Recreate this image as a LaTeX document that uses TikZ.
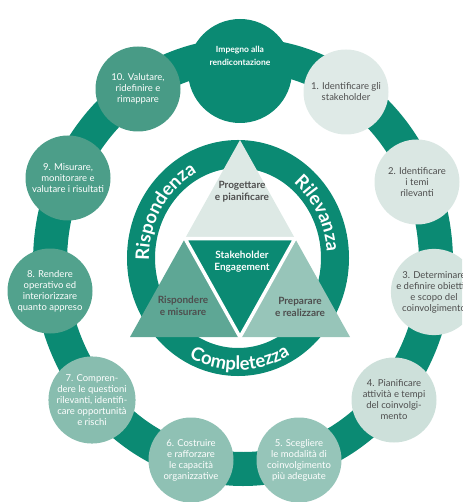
\documentclass[tikz,border=0pt]{standalone}
\usepackage{fontspec}
\setmainfont{Lato}
\usetikzlibrary{calc,decorations.text}

\definecolor{ringteal}{HTML}{0B8A73}
\definecolor{tritop}{HTML}{DDE9E5}
\definecolor{trileft}{HTML}{5EA795}
\definecolor{triright}{HTML}{97C5B9}
\definecolor{stepgray}{HTML}{4E4E4E}
\definecolor{st1}{HTML}{DFEAE7}
\definecolor{st2}{HTML}{DAE7E3}
\definecolor{st3}{HTML}{D4E4DF}
\definecolor{st4}{HTML}{CDE0DA}
\definecolor{st5}{HTML}{96C5B9}
\definecolor{st6}{HTML}{8FC1B4}
\definecolor{st7}{HTML}{88BDAF}
\definecolor{st8}{HTML}{52A28D}
\definecolor{st9}{HTML}{4C9E89}
\definecolor{st10}{HTML}{489B86}

\newcommand{\ringfont}{\bfseries\fontsize{18.5}{18.5}\selectfont}

\begin{document}
\begin{tikzpicture}[x=1pt,y=-1pt]
        \tikzstyle{stepc}=[circle, inner sep=0pt, minimum size=85pt, align=center, font=\fontsize{9.5}{11}\selectfont]
        \tikzstyle{tritext}=[align=center, font=\fontsize{10}{12}\selectfont\bfseries, text=stepgray]
        \tikzstyle{ringtext}=[decorate, decoration={text along path, text align=center, text color=white}]

        \useasboundingbox (0,0) rectangle (462,502);
        \clip (0,0) rectangle (462,502);

        % outer ring with the bulge on top
        \draw[ringteal, line width=34pt] (243,262) ellipse[x radius=193, y radius=207];
        \fill[ringteal] (240,71) circle[radius=52];
        \fill[ringteal] (176,62) -- (177,50) .. controls (185,49.5) and (193,49) .. (196,44)
            -- (284,44) .. controls (287,49) and (295,48.5) .. (303,48) -- (304,62) -- cycle;
        \node[align=center, text=white, font=\fontsize{8.5}{13}\selectfont\bfseries] (impegno) at (240,56) {Impegno alla\\rendicontazione};

        % steps
        \node[stepc, fill=st1, text=stepgray]  (s1)  at (346,92)  {1. Identificare gli\\stakeholder};
        \node[stepc, fill=st2, text=stepgray]  (s2)  at (417,182) {2. Identificare\\i temi\\rilevanti};
        \node[stepc, fill=st3, text=stepgray]  (s3)  at (434,292) {3. Determinare\\e definire obiettivi\\e scopo del\\coinvolgimento};
        \node[stepc, fill=st4, text=stepgray]  (s4)  at (394,400) {4. Pianificare\\attività e tempi\\del coinvolgi-\\mento};
        \node[stepc, fill=st5, text=white]     (s5)  at (299,460) {5. Scegliere\\le modalità di\\coinvolgimento\\più adeguate};
        \node[stepc, fill=st6, text=white]     (s6)  at (191,460) {6. Costruire\\e rafforzare\\le capacità\\organizzative};
        \node[stepc, fill=st7, text=white]     (s7)  at (92,400)  {7. Compren-\\dere le questioni\\rilevanti, identifi-\\care opportunità\\e rischi};
        \node[stepc, fill=st8, text=white]     (s8)  at (50,291)  {8. Rendere\\operativo ed\\interiorizzare\\quanto appreso};
        \node[stepc, fill=st9, text=white]     (s9)  at (68,178)  {9. Misurare,\\monitorare e\\valutare i risultati};
        \node[stepc, fill=st10, text=white]    (s10) at (138,89)  {10. Valutare,\\ridefinire e\\rimappare};

        % inner ring
        \draw[ringteal, line width=28pt] (238,258) ellipse[x radius=97, y radius=104];

        % triangle
        \coordinate (A) at (240,140);
        \coordinate (B) at (130,337);
        \coordinate (C) at (350,337);
        \coordinate (AB) at ($(A)!0.5!(B)$);
        \coordinate (BC) at ($(B)!0.5!(C)$);
        \coordinate (CA) at ($(C)!0.5!(A)$);
        \fill[tritop]   (A) -- (AB) -- (CA) -- cycle;
        \fill[trileft]  (AB) -- (B) -- (BC) -- cycle;
        \fill[triright] (CA) -- (BC) -- (C) -- cycle;
        \fill[ringteal] (AB) -- (BC) -- (CA) -- cycle;
        \draw[white, line width=3.5pt] (AB) -- (BC) -- (CA) -- cycle;

        \node[tritext] (prog) at (242,192) {Progettare\\e pianificare};
        \node[tritext, text=white] (stake) at (242,262) {Stakeholder\\Engagement};
        \node[tritext] (risp) at (183,306) {Rispondere\\e misurare};
        \node[tritext] (prep) at (300,307) {Preparare\\e realizzare};

        % words on the inner ring
        \path[ringtext, decoration={text={|\ringfont|Rispondenza}}]
            ([shift={(-194:89 and 96)}]238,258) arc[start angle=-194, end angle=-104, x radius=89, y radius=96];
        \path[ringtext, decoration={text={|\ringfont|Rilevanza}}]
            ([shift={(-66:89 and 96)}]238,258) arc[start angle=-66, end angle=10, x radius=89, y radius=96];
        \path[ringtext, decoration={text={|\ringfont|Completezza}}]
            ([shift={(130:105 and 112)}]238,258) arc[start angle=130, end angle=48, x radius=105, y radius=112];
    \end{tikzpicture}
\end{document}
